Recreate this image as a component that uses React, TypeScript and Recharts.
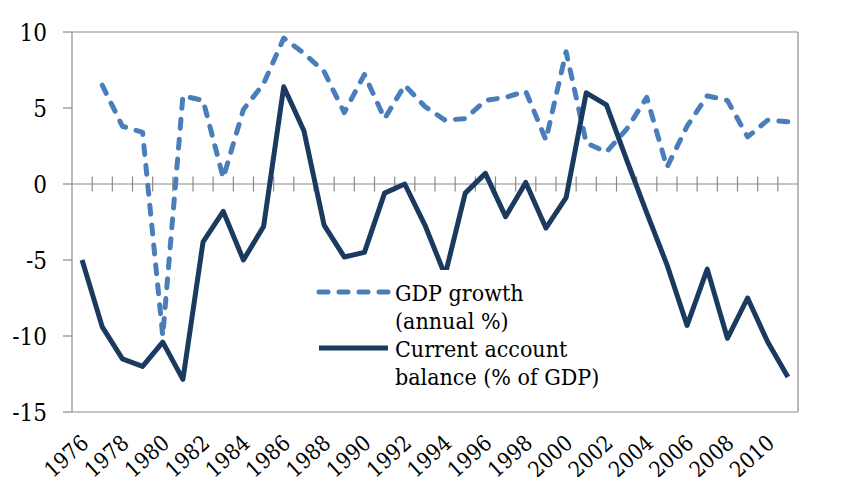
import React from "react";
import {
  LineChart,
  Line,
  XAxis,
  YAxis,
  CartesianGrid,
  ReferenceLine,
  Legend,
} from "recharts";

// Annual series, 1976-2011
const years = [
  1976, 1977, 1978, 1979, 1980, 1981, 1982, 1983, 1984, 1985, 1986, 1987,
  1988, 1989, 1990, 1991, 1992, 1993, 1994, 1995, 1996, 1997, 1998, 1999,
  2000, 2001, 2002, 2003, 2004, 2005, 2006, 2007, 2008, 2009, 2010, 2011,
];

const gdpGrowth = [
  null, 6.5, 3.8, 3.4, -10.0, 5.8, 5.5, 0.4, 4.9, 6.6, 9.6, 8.6,
  7.4, 4.7, 7.2, 4.3, 6.5, 5.1, 4.2, 4.3, 5.5, 5.7, 6.1, 2.9,
  8.7, 2.7, 2.1, 3.6, 5.7, 1.1, 3.8, 5.8, 5.5, 3.1, 4.2, 4.1,
];

const currentAccount = [
  -5.0, -9.4, -11.5, -12.0, -10.4, -12.85, -3.8, -1.8, -5.0, -2.8, 6.4, 3.5,
  -2.7, -4.8, -4.5, -0.6, 0.0, -2.7, -6.0, -0.6, 0.7, -2.15, 0.1, -2.9,
  -0.9, 6.0, 5.2, 1.6, -1.9, -5.3, -9.3, -5.6, -10.15, -7.5, -10.4, -12.7,
];

const yearTicks = [
  1976, 1978, 1980, 1982, 1984, 1986, 1988, 1990, 1992,
  1994, 1996, 1998, 2000, 2002, 2004, 2006, 2008, 2010,
];
const valueTicks = [-15, -10, -5, 0, 5, 10];

// legend entries in display order, label wrapped onto two lines
const legendOrder = ["gdp", "ca"];
const legendLines: Record<string, string[]> = {
  gdp: ["GDP growth", "(annual %)"],
  ca: ["Current account", "balance (% of GDP)"],
};

const data = years.map((year, i) => ({
  year,
  gdp: gdpGrowth[i],
  ca: currentAccount[i],
}));

// small tick marks straddling the zero line, between years
const boundaries = years.slice(0, -1).map((y) => y + 0.5);

const FONT = "DejaVu Serif Condensed, DejaVu Serif, serif";
const GRID = "#8c8c8c";
const BLUE = "#4a7ebb";
const NAVY = "#1b3a5f";

const YearTick = (props: any) => {
  const { x, y, payload } = props;
  return (
    <g transform={`translate(${x},${y})`}>
      <text
        x={8}
        y={33}
        textAnchor="end"
        transform="rotate(-42 8 33)"
        style={{ fontFamily: FONT, fontSize: 22 }}
        fill="#000"
      >
        {payload.value}
      </text>
    </g>
  );
};

const LegendBox = (props: any) => {
  const items = [...(props.payload || [])].sort(
    (a: any, b: any) =>
      legendOrder.indexOf(a.dataKey) - legendOrder.indexOf(b.dataKey)
  );
  return (
    <svg width={320} height={135} style={{ display: "block", background: "#fff" }}>
      {items.map((item: any, i: number) => {
        const top = i * 56;
        const key = item.dataKey as string;
        return (
          <g key={key}>
            <line
              x1={13}
              x2={82}
              y1={top + 22}
              y2={top + 22}
              stroke={item.color}
              strokeWidth={5}
              strokeLinecap={key === "gdp" ? "round" : "butt"}
              strokeDasharray={key === "gdp" ? "9 11" : undefined}
            />
            {legendLines[key].map((t, j) => (
              <text
                key={t}
                x={89}
                y={top + 31 + j * 28}
                style={{ fontFamily: FONT, fontSize: 23 }}
                fill="#000"
              >
                {t}
              </text>
            ))}
          </g>
        );
      })}
    </svg>
  );
};

export default function App() {
  return (
    <div style={{ position: "absolute", left: 0, top: 0, background: "#fff" }}>
      <LineChart
        width={856}
        height={477}
        data={data}
        margin={{ top: 32, right: 0, left: 0, bottom: 0 }}
      >
        <CartesianGrid vertical={false} stroke={GRID} strokeWidth={1.2} />
        <XAxis
          dataKey="year"
          type="number"
          domain={[1975.5, 2011.5]}
          ticks={yearTicks}
          interval={0}
          axisLine={false}
          tickLine={false}
          tickSize={0}
          tickMargin={0}
          height={65}
          tick={<YearTick />}
        />
        <YAxis
          yAxisId="left"
          width={72}
          domain={[-15, 10]}
          ticks={valueTicks}
          interval={0}
          stroke={GRID}
          strokeWidth={1.2}
          tickSize={9}
          tickMargin={16}
          tick={{ fill: "#000", style: { fontFamily: FONT, fontSize: 24 } }}
        />
        <YAxis
          yAxisId="right"
          orientation="right"
          width={58}
          domain={[-15, 10]}
          ticks={valueTicks}
          interval={0}
          stroke={GRID}
          strokeWidth={1.2}
          tickSize={8}
          tickMargin={14}
          tick={{ fill: "#000", textAnchor: "start", style: { fontFamily: FONT, fontSize: 24 } }}
        />
        <ReferenceLine yAxisId="left" y={0} stroke={GRID} strokeWidth={1.2} />
        {boundaries.map((b) => (
          <ReferenceLine
            key={b}
            yAxisId="left"
            segment={[
              { x: b, y: -0.5 },
              { x: b, y: 0.5 },
            ]}
            stroke={GRID}
            strokeWidth={1.2}
          />
        ))}
        <Legend
          layout="vertical"
          align="center"
          verticalAlign="middle"
          content={<LegendBox />}
          wrapperStyle={{ left: 306, top: 270, width: 320, height: 135 }}
        />
        <Line
          yAxisId="left"
          type="linear"
          dataKey="gdp"
          name="GDP growth (annual %)"
          stroke={BLUE}
          strokeWidth={5}
          strokeDasharray="9 11"
          strokeLinecap="round"
          strokeLinejoin="round"
          dot={false}
          isAnimationActive={false}
        />
        <Line
          yAxisId="left"
          type="linear"
          dataKey="ca"
          name="Current account balance (% of GDP)"
          stroke={NAVY}
          strokeWidth={5}
          strokeLinejoin="round"
          dot={false}
          isAnimationActive={false}
        />
      </LineChart>
    </div>
  );
}
